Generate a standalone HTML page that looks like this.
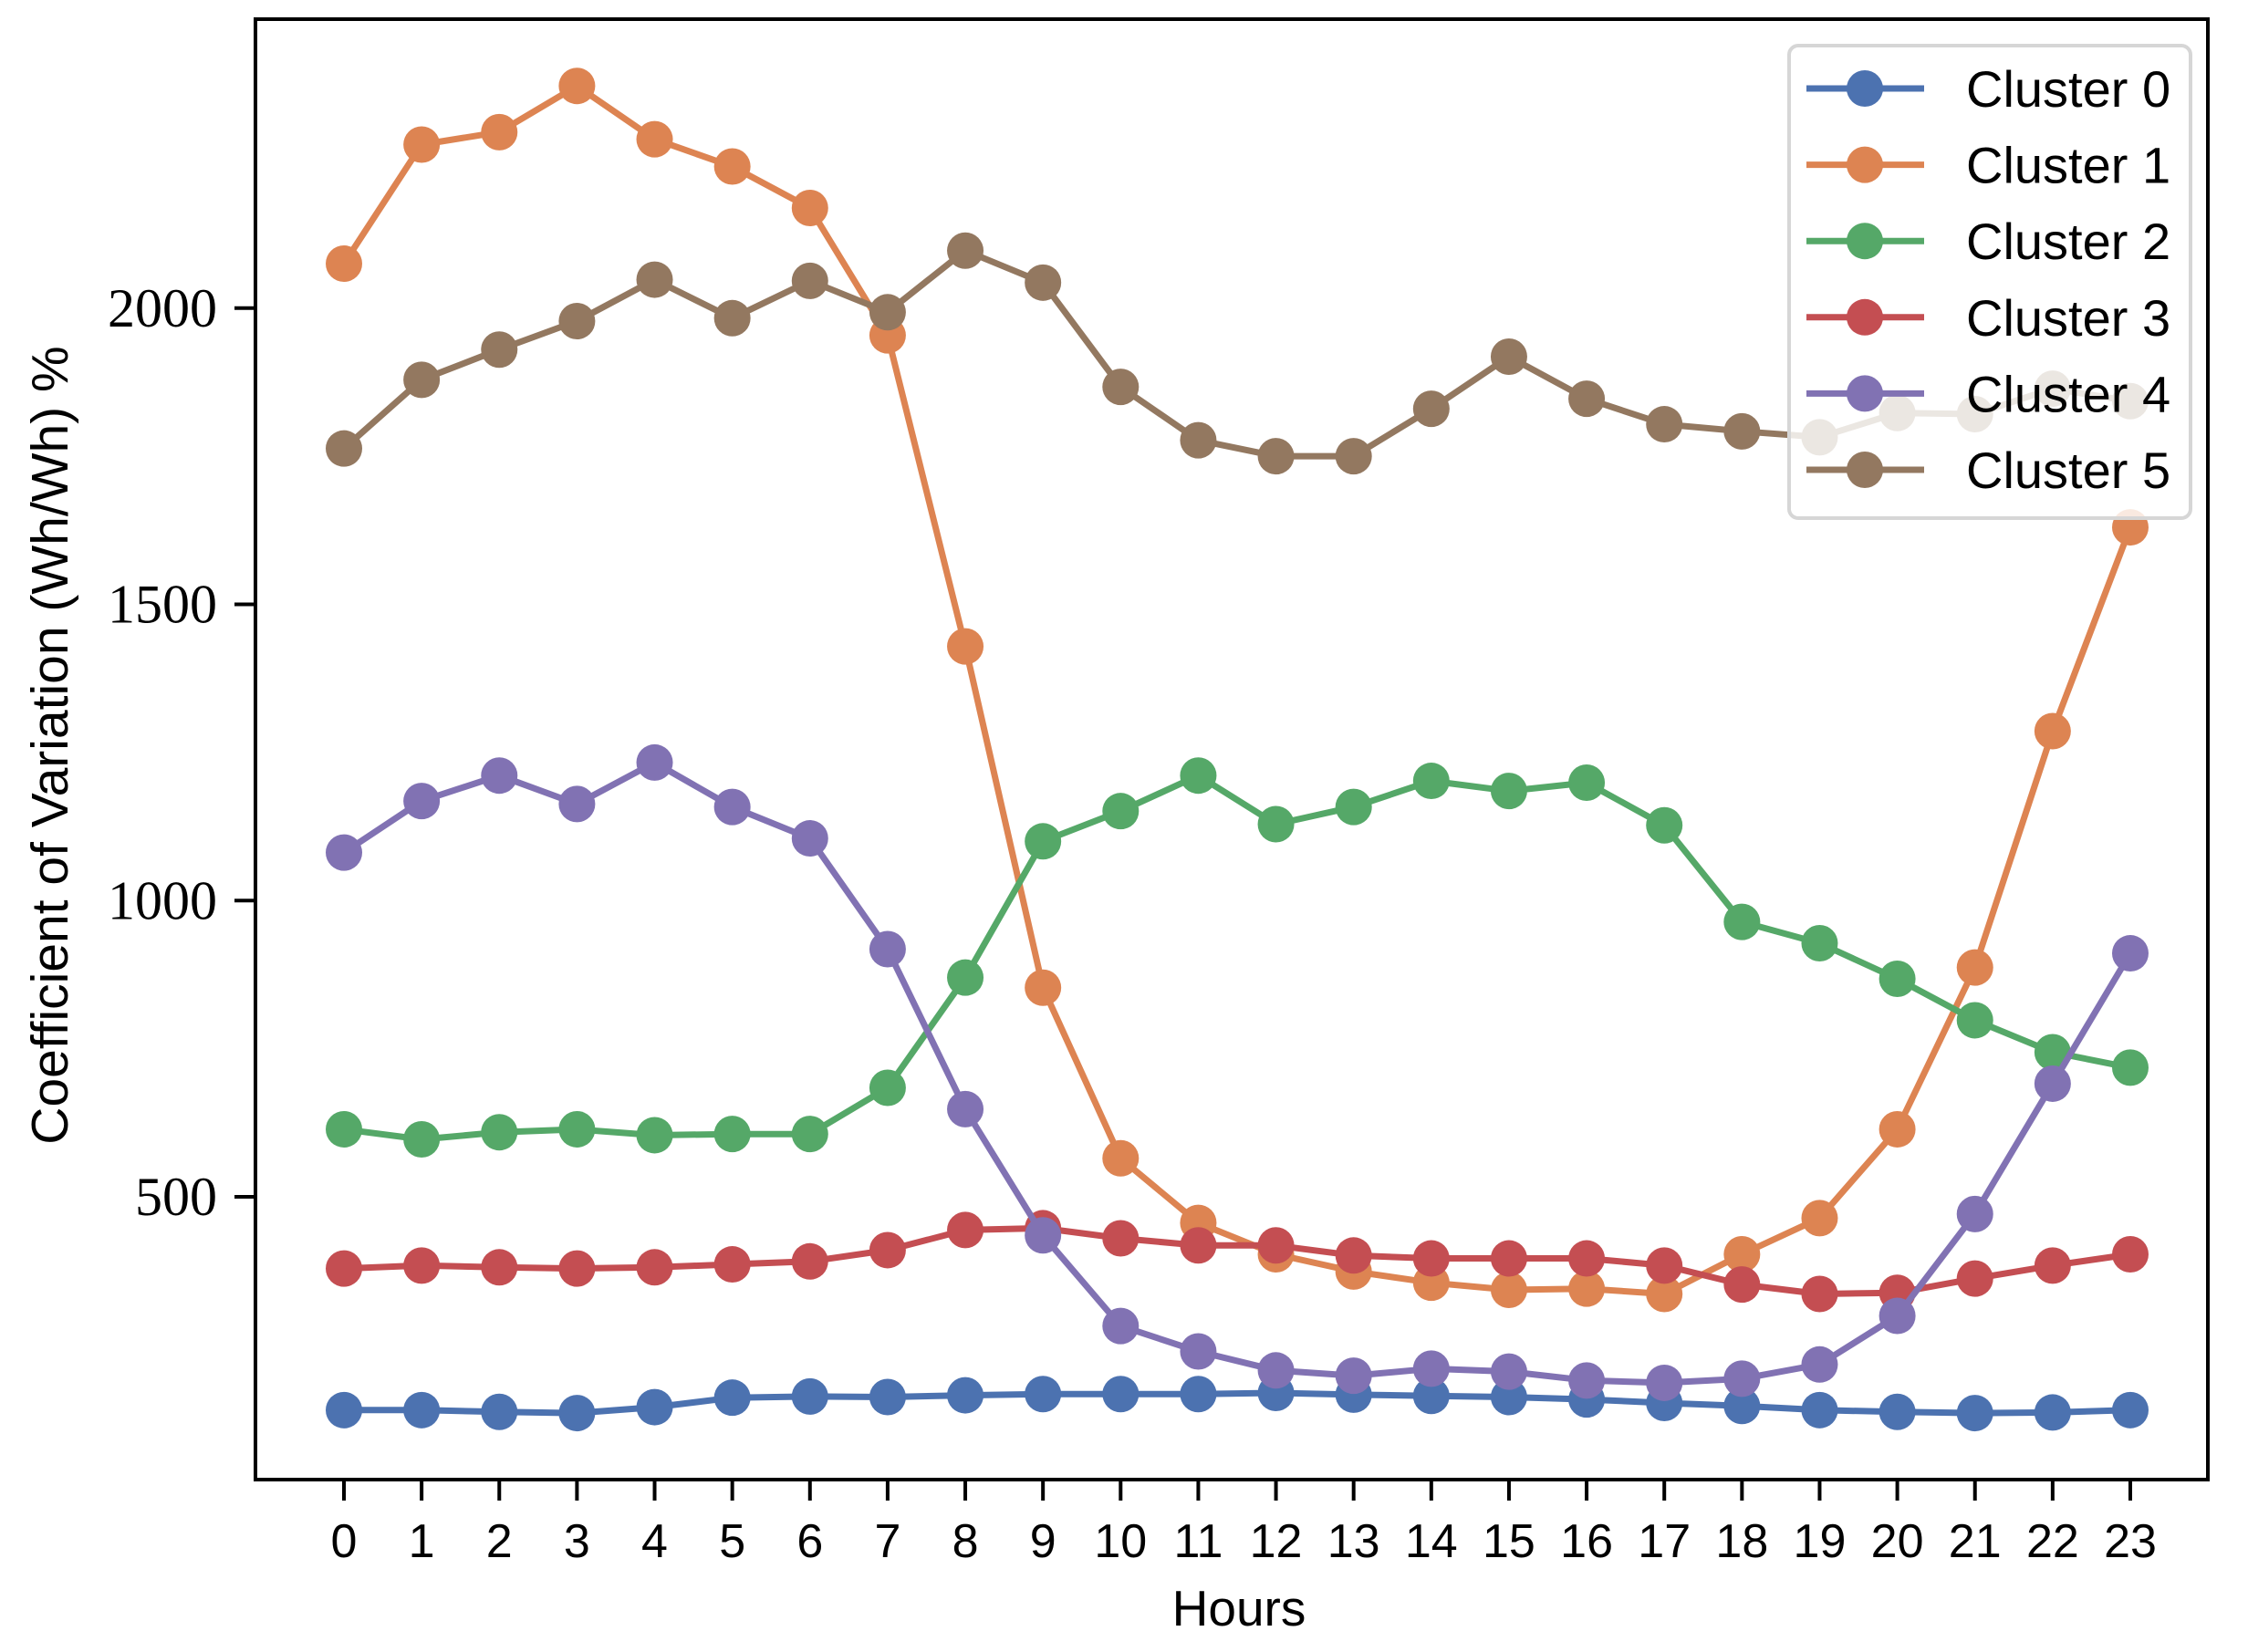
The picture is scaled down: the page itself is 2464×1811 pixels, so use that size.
<!DOCTYPE html>
<html><head><meta charset="utf-8"><style>
html,body{margin:0;padding:0;background:#fff;}
svg{display:block;}
</style></head><body>
<svg id="chart" width="2464" height="1811" xmlns="http://www.w3.org/2000/svg">
<rect width="2464" height="1811" fill="#fff"/>
<g id="plot"></g>
<rect x="280" y="21" width="2140" height="1601" fill="none" stroke="#000" stroke-width="4"/>
<g id="axes"></g>
<text transform="translate(74,817) rotate(-90)" text-anchor="middle" font-family="Liberation Sans, sans-serif" font-size="57">Coefficient of Variation (Wh/Wh) %</text>
<text x="1358" y="1782" text-anchor="middle" font-family="Liberation Sans, sans-serif" font-size="55">Hours</text>
<g id="legend"></g>
</svg>
<script>
const hours = [0,1,2,3,4,5,6,7,8,9,10,11,12,13,14,15,16,17,18,19,20,21,22,23];
const yTicks = [500,1000,1500,2000];
const seriesNames = ["Cluster 0","Cluster 1","Cluster 2","Cluster 3","Cluster 4","Cluster 5"];
const seriesColors = ["#4c72b0","#dd8452","#55a868","#c44e52","#8172b3","#937860"];
const cluster0 = [140,140,137,135,145,161,163,162,165,167,167,167,169,166,164,162,158,152,147,140,137,135,136,140];
const cluster1 = [2075,2276,2297,2375,2285,2239,2169,1954,1429,853,565,456,403,374,355,343,345,336,403,464,614,887,1286,1630];
const cluster2 = [614,597,609,614,604,606,606,684,870,1100,1151,1211,1129,1158,1202,1185,1199,1127,964,928,868,798,744,718];
const cluster3 = [379,384,381,379,381,386,391,410,444,447,430,418,418,401,396,396,396,384,352,336,338,362,384,403];
const cluster4 = [1081,1168,1211,1163,1233,1158,1105,918,648,435,282,239,207,198,210,205,190,186,193,217,299,471,691,911];
const cluster5 = [1763,1879,1930,1978,2048,1983,2046,1993,2097,2043,1867,1777,1750,1750,1830,1918,1847,1804,1792,1782,1823,1821,1864,1843];
const allSeries = [cluster0,cluster1,cluster2,cluster3,cluster4,cluster5];

const NS = "http://www.w3.org/2000/svg";
function xPos(h){ return 377 + h*85.13; }
function yPos(v){ return 1312 - (v-500)*0.6495; }
function mk(tag, attrs, parent){
  const e = document.createElementNS(NS, tag);
  for (const k in attrs) e.setAttribute(k, attrs[k]);
  parent.appendChild(e);
  return e;
}
const plot = document.getElementById('plot');
allSeries.forEach((vals, si) => {
  const g = mk('g', {}, plot);
  
  
  const pts = vals.map((v,i) => xPos(hours[i]).toFixed(1) + ',' + yPos(v).toFixed(1)).join(' ');
  const line = mk('polyline', {points: pts, fill: 'none', stroke: seriesColors[si], 'stroke-width': 7, 'stroke-linejoin': 'round'}, g);
  
  
  vals.forEach((v,i) => {
    const c = mk('circle', {cx: xPos(hours[i]), cy: yPos(v), r: 20, fill: seriesColors[si]}, g);
    
    
  });
});
const axes = document.getElementById('axes');
hours.forEach(h => {
  const x = xPos(h);
  const t = mk('line', {x1: x, x2: x, y1: 1622, y2: 1645, stroke: '#000', 'stroke-width': 4}, axes);
  
  
  const lb = mk('text', {x: x, y: 1707, 'text-anchor': 'middle', 'font-family': 'Liberation Sans, sans-serif', 'font-size': 52}, axes);
  lb.textContent = String(h);
  
  
});
yTicks.forEach(v => {
  const y = yPos(v);
  const t = mk('line', {x1: 257, x2: 280, y1: y, y2: y, stroke: '#000', 'stroke-width': 4}, axes);
  
  
  const lb = mk('text', {x: 238, y: y + 20, 'text-anchor': 'end', 'font-family': 'Liberation Serif, serif', 'font-size': 60}, axes);
  lb.textContent = String(v);
  
  
});
const legend = document.getElementById('legend');


mk('rect', {x: 1961, y: 50, width: 440, height: 518, rx: 10, fill: '#fff', 'fill-opacity': 0.82, stroke: '#d6d6d6', 'stroke-width': 4}, legend);
seriesNames.forEach((name, i) => {
  const y = 97 + i*83.6;
  const g = mk('g', {}, legend);
  
  
  mk('line', {x1: 1980, x2: 2109, y1: y, y2: y, stroke: seriesColors[i], 'stroke-width': 7}, g);
  mk('circle', {cx: 2044, cy: y, r: 20, fill: seriesColors[i]}, g);
  const tx = mk('text', {x: 2155, y: y + 20, 'font-family': 'Liberation Sans, sans-serif', 'font-size': 56}, g);
  tx.textContent = name;
});
</script>
</body></html>
